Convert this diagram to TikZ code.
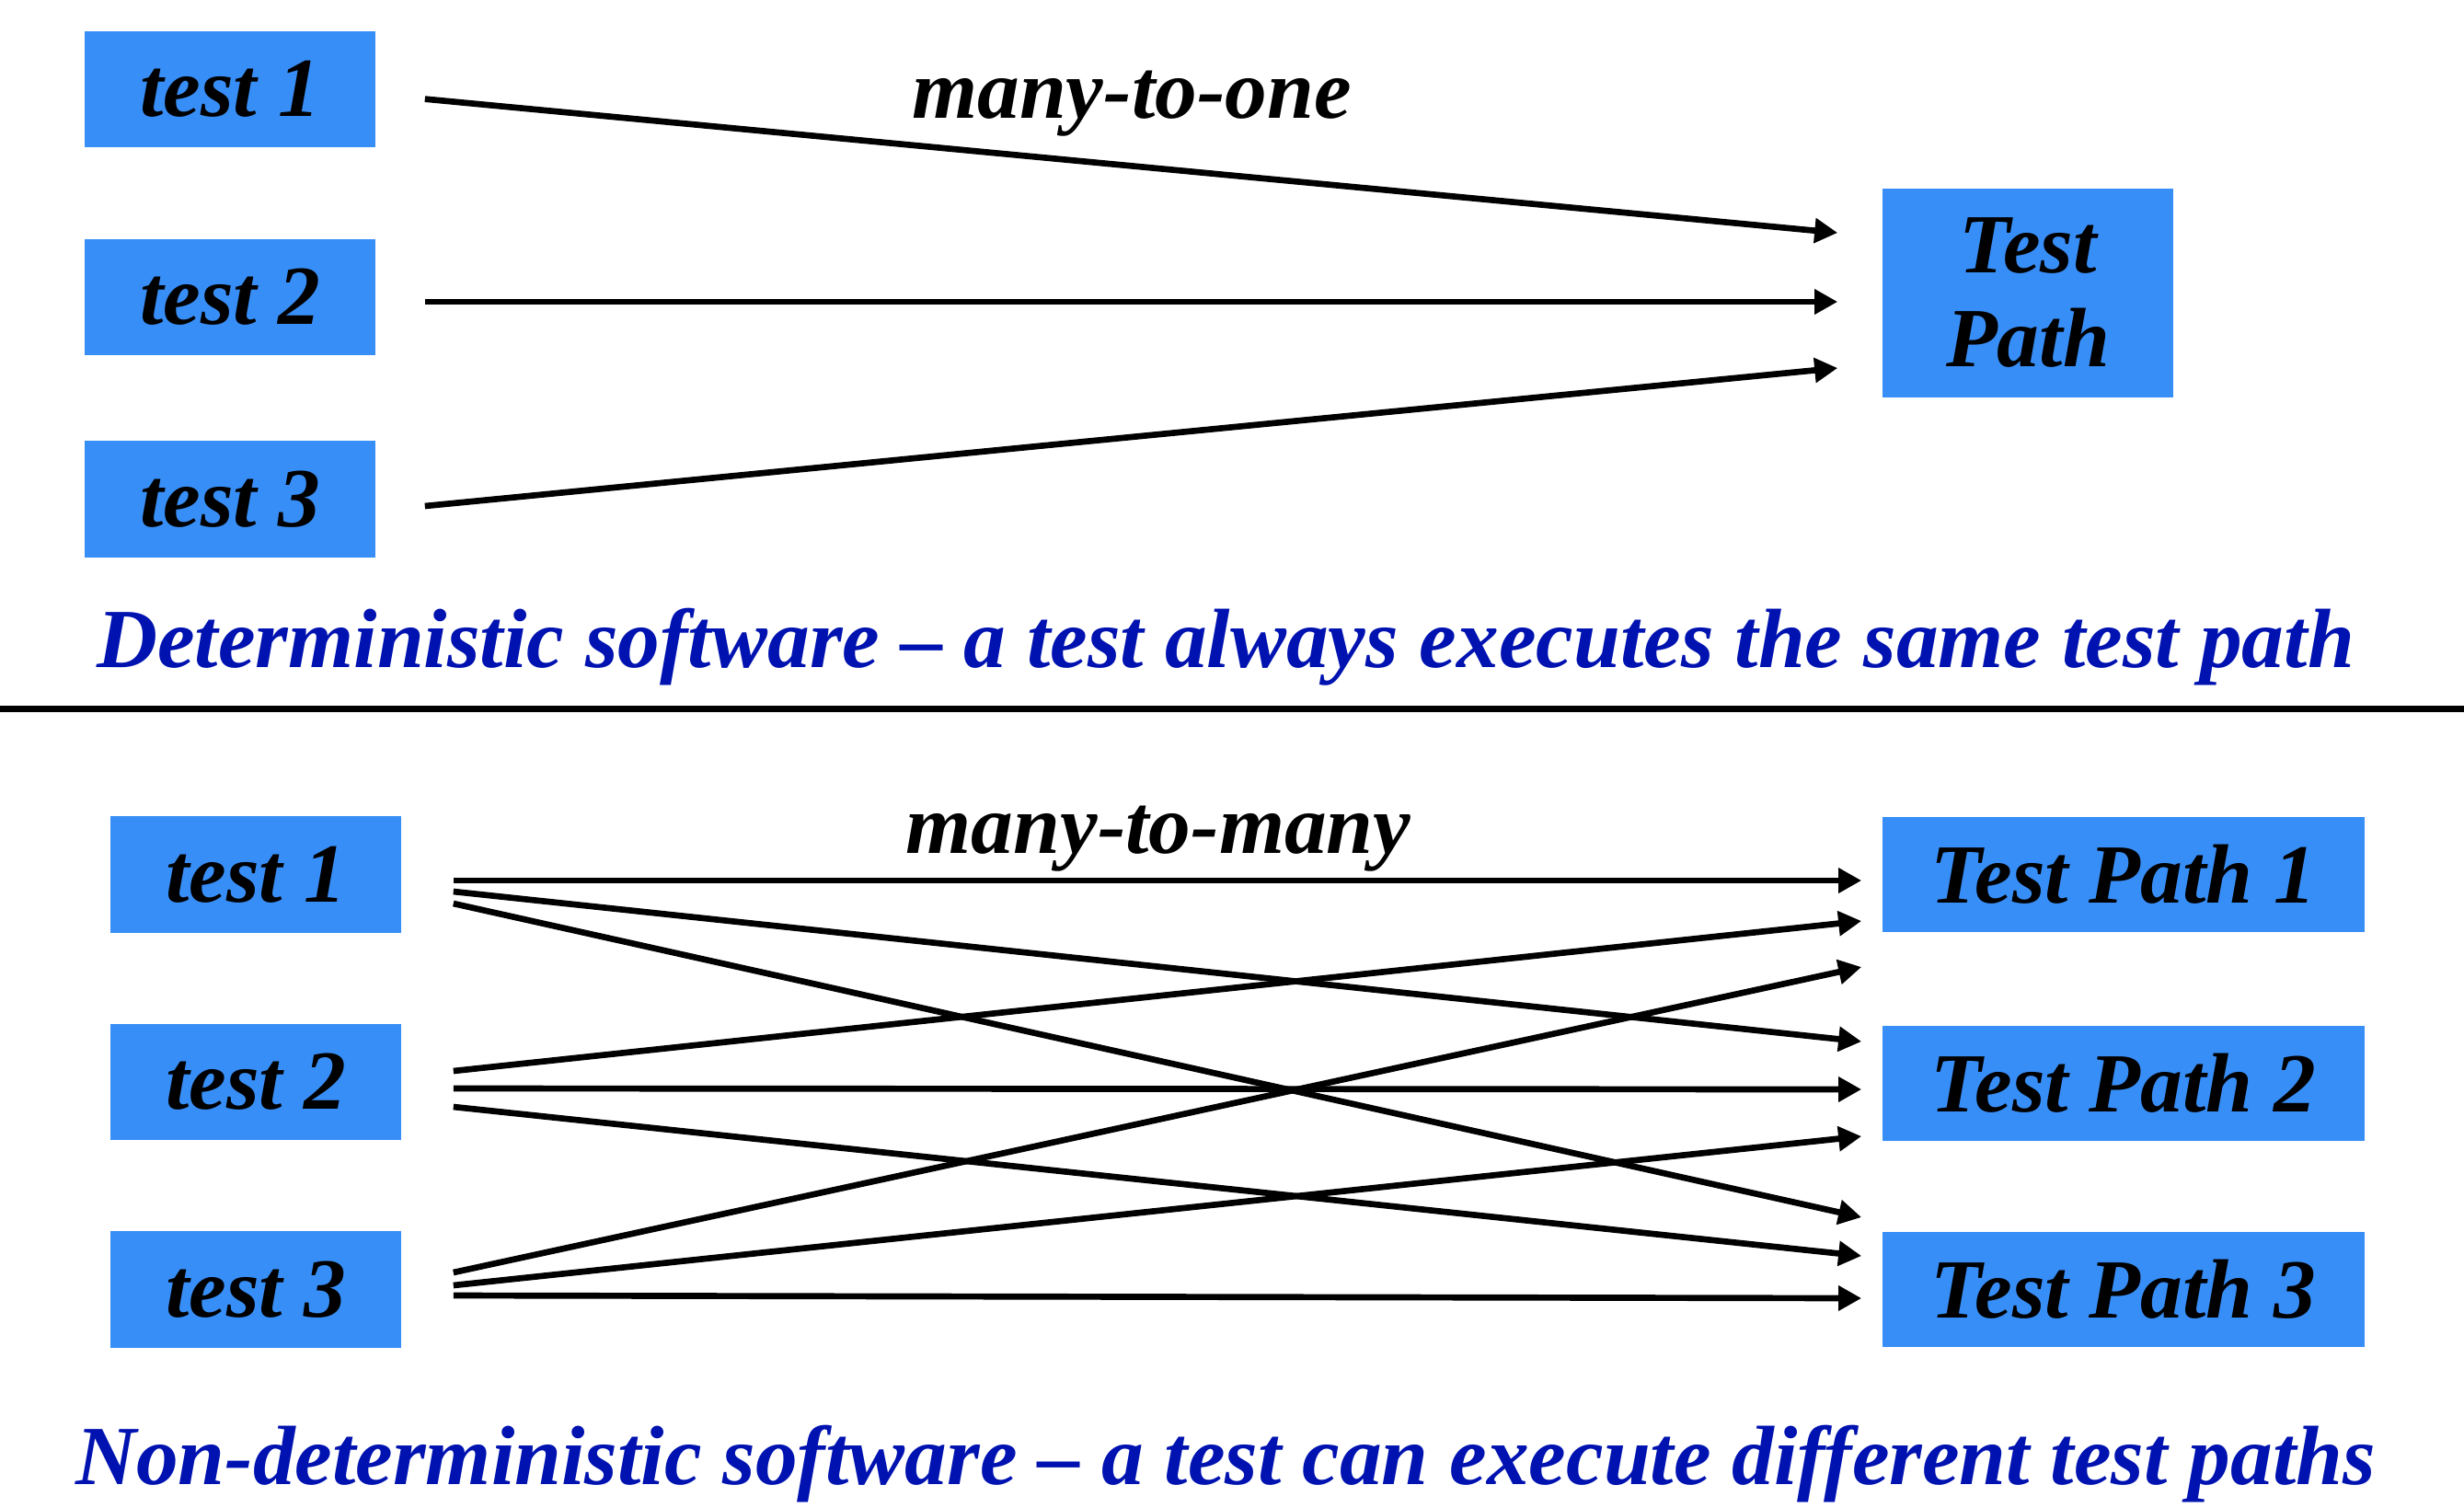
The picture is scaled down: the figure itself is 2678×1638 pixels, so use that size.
\documentclass[tikz,border=0pt]{standalone}
\usepackage{fontspec}
\setmainfont{Liberation Serif}
\usepackage{tikz}
\usetikzlibrary{arrows.meta}

\definecolor{boxblue}{RGB}{56,142,247}
\definecolor{capblue}{RGB}{0,18,176}

\tikzset{
  box/.style={fill=boxblue, inner sep=0pt, minimum width=3.16cm, minimum height=1.26cm,
    font=\fontsize{26}{29}\selectfont\bfseries\itshape, align=center},
  pathbox/.style={box, minimum width=5.24cm, minimum height=1.25cm},
  arr/.style={line width=1.9pt, -{Triangle[length=0.25cm, width=0.26cm]}},
  lbl/.style={anchor=base, inner sep=0pt, font=\fontsize{26}{29}\selectfont\bfseries\itshape},
  captext/.style={lbl, text=capblue}
}

\begin{document}
\begin{tikzpicture}[x=0.01cm, y=-0.01cm]
  \useasboundingbox (0,0) rectangle (2678,1638);

  % many-to-one
  \node[box] (a1) at (250,97) {test 1};
  \node[box] (a2) at (250,323) {test 2};
  \node[box] (a3) at (250,542.5) {test 3};
  \node[box, minimum height=2.27cm] (p) at (2204,318.5) {Test\\Path};
  \draw[arr] ([shift={(53,10.6)}]a1.east) -- ([shift={(-48,-65.5)}]p.west);
  \draw[arr] ([shift={(53,5)}]a2.east) -- ([shift={(-48,9.5)}]p.west);
  \draw[arr] ([shift={(53,7.5)}]a3.east) -- ([shift={(-48,81.5)}]p.west);
  \node[lbl] (one) at (1230,128) {many-to-one};
  \node[captext] (det) at (1332,725) {Deterministic software -- a test always executes the same test path};

  \draw[line width=2pt] (0,770) -- (2678,770);

  % many-to-many
  \node[box] (b1) at (278,950.5) {test 1};
  \node[box] (b2) at (278,1176) {test 2};
  \node[box] (b3) at (278,1401.5) {test 3};
  \node[pathbox] (q1) at (2308,950.5) {Test Path 1};
  \node[pathbox] (q2) at (2308,1177.5) {Test Path 2};
  \node[pathbox] (q3) at (2308,1401.5) {Test Path 3};
  \draw[arr] ([shift={(56,6.5)}]b1.east) -- ([shift={(-22,6.5)}]q1.west);
  \draw[arr] ([shift={(56,18.5)}]b1.east) -- ([shift={(-22,-45.5)}]q2.west);
  \draw[arr] ([shift={(56,31.5)}]b1.east) -- ([shift={(-22,-78.5)}]q3.west);
  \draw[arr] ([shift={(56,-12)}]b2.east) -- ([shift={(-22,50.5)}]q1.west);
  \draw[arr] ([shift={(56,7)}]b2.east) -- ([shift={(-22,6.5)}]q2.west);
  \draw[arr] ([shift={(56,27)}]b2.east) -- ([shift={(-22,-36.5)}]q3.west);
  \draw[arr] ([shift={(56,-18.5)}]b3.east) -- ([shift={(-22,100.5)}]q1.west);
  \draw[arr] ([shift={(56,-4.5)}]b3.east) -- ([shift={(-22,57.5)}]q2.west);
  \draw[arr] ([shift={(56,6.5)}]b3.east) -- ([shift={(-22,9.5)}]q3.west);
  \node[lbl] (many) at (1259,927) {many-to-many};
  \node[captext] (nondet) at (1332,1613) {Non-deterministic software -- a test can execute different test paths};
\end{tikzpicture}
\end{document}
